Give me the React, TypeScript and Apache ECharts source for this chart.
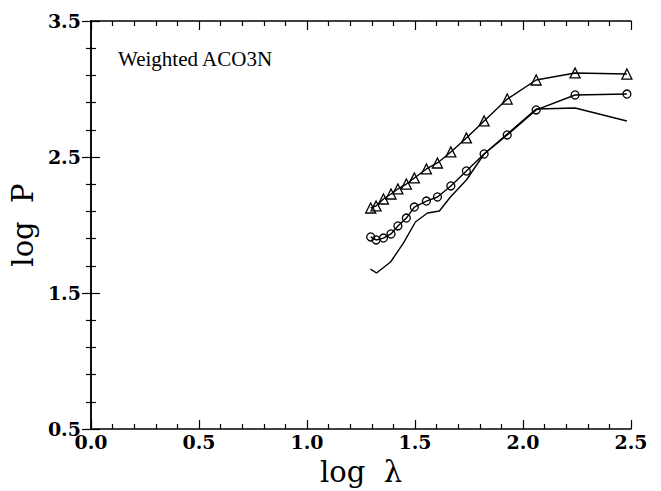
import React, { useEffect, useRef } from "react";
import * as echarts from "echarts";

// log(lambda) positions of the marked points
const logLambda = [1.295, 1.32, 1.354, 1.389, 1.421, 1.46, 1.497, 1.553, 1.604, 1.666, 1.738, 1.82, 1.927, 2.061, 2.241, 2.481];
// triangle series
const triangleLogP = [2.125, 2.14, 2.191, 2.228, 2.265, 2.301, 2.346, 2.412, 2.456, 2.537, 2.64, 2.765, 2.926, 3.066, 3.118, 3.11];
// circle series
const circleLogP = [1.912, 1.89, 1.904, 1.934, 1.993, 2.051, 2.132, 2.176, 2.206, 2.287, 2.397, 2.522, 2.662, 2.846, 2.956, 2.963];
// plain solid line
const solidLogLambda = [1.294, 1.322, 1.387, 1.447, 1.502, 1.558, 1.613, 1.664, 1.738, 1.82, 1.927, 2.061, 2.241, 2.481];
const solidLogP = [1.676, 1.647, 1.728, 1.868, 2.022, 2.088, 2.103, 2.206, 2.331, 2.522, 2.669, 2.853, 2.86, 2.765];

const xMin = 0;
const xMax = 2.5;
const xStep = 0.5;
const yMin = 0.5;
const yMax = 3.5;
const yStep = 1;

const titleText = "Weighted ACO3N";
const xName = "log  λ";
const yName = "log  P";

const zip = (xs: number[], ys: number[]) => xs.map((x, i) => [x, ys[i]]);

export default function App() {
  const ref = useRef<HTMLDivElement>(null);
  useEffect(() => {
    if (!ref.current) return;
    const chart = echarts.init(ref.current, undefined, { renderer: "svg" });
    const lineCol = "#000";
    const tickCommon = {
      axisLine: { show: true, lineStyle: { color: lineCol, width: 1.5 } },
      axisTick: { show: true, inside: true, length: 9, lineStyle: { color: lineCol, width: 1.2 } },
      minorTick: { show: true, splitNumber: 5, length: 5, lineStyle: { color: lineCol, width: 1.2 } },
      splitLine: { show: false },
      minorSplitLine: { show: false },
    };
    const labelStyle = {
      color: "#000",
      fontFamily: "DejaVu Serif",
      fontWeight: "bold" as const,
      fontSize: 19,
    };
    const nameStyle = {
      color: "#000",
      fontFamily: "DejaVu Serif",
      fontSize: 29,
    };
    chart.setOption({
      animation: false,
      backgroundColor: "#fff",
      title: {
        text: titleText,
        left: 118,
        top: 48,
        padding: 0,
        textStyle: { fontFamily: "Liberation Serif", fontSize: 21, fontWeight: "normal", color: "#000" },
      },
      grid: { left: 90, right: 30, top: 21, bottom: 62, containLabel: false },
      xAxis: [
        {
          type: "value",
          position: "bottom",
          min: xMin,
          max: xMax,
          interval: xStep,
          ...tickCommon,
          axisLabel: { ...labelStyle, margin: 3, formatter: (v: number) => v.toFixed(1) },
          name: xName,
          nameLocation: "middle",
          nameGap: 28,
          nameTextStyle: nameStyle,
        },
        {
          type: "value",
          position: "top",
          min: xMin,
          max: xMax,
          interval: xStep,
          ...tickCommon,
          axisLabel: { show: false },
        },
      ],
      yAxis: [
        {
          type: "value",
          position: "left",
          min: yMin,
          max: yMax,
          interval: yStep,
          ...tickCommon,
          axisLabel: { ...labelStyle, margin: 10, formatter: (v: number) => v.toFixed(1) },
          name: yName,
          nameLocation: "middle",
          nameGap: 47,
          nameTextStyle: nameStyle,
        },
        {
          type: "value",
          position: "right",
          min: yMin,
          max: yMax,
          interval: yStep,
          ...tickCommon,
          axisLabel: { show: false },
        },
      ],
      series: [
        {
          type: "line",
          data: zip(logLambda, triangleLogP),
          symbol: "triangle",
          symbolSize: 10,
          showAllSymbol: true,
          lineStyle: { color: lineCol, width: 1.4 },
          itemStyle: { color: "transparent", borderColor: lineCol, borderWidth: 1.3 },
        },
        {
          type: "line",
          data: zip(logLambda, circleLogP),
          symbol: "circle",
          symbolSize: 8,
          showAllSymbol: true,
          lineStyle: { color: lineCol, width: 1.4 },
          itemStyle: { color: "transparent", borderColor: lineCol, borderWidth: 1.3 },
        },
        {
          type: "line",
          data: zip(solidLogLambda, solidLogP),
          showSymbol: false,
          lineStyle: { color: lineCol, width: 1.4 },
        },
      ],
    });
    return () => chart.dispose();
  }, []);
  return (
    <div
      ref={ref}
      style={{ position: "absolute", left: 0, top: 0, width: 661, height: 491, background: "#fff" }}
    />
  );
}
